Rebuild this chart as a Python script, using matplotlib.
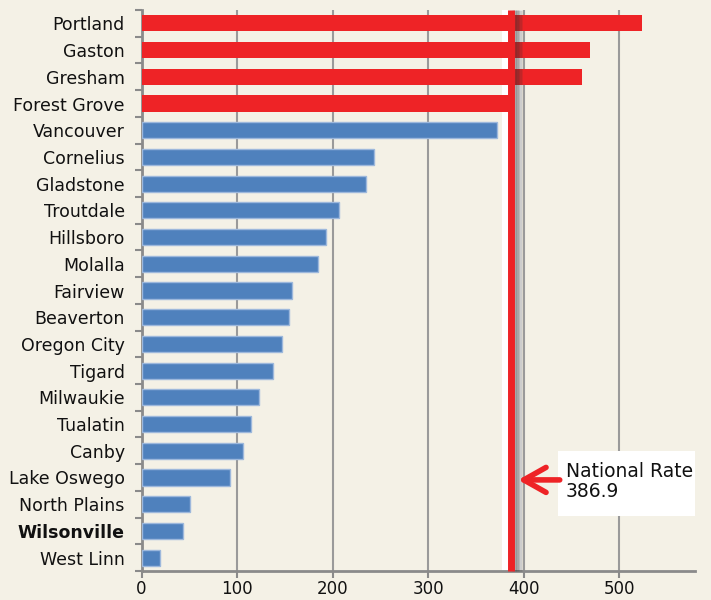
import matplotlib
matplotlib.use("Agg")
import matplotlib.pyplot as plt
import matplotlib.patheffects as pe
from matplotlib.patches import Rectangle
import numpy as np

cities = ["Portland", "Gaston", "Gresham", "Forest Grove", "Vancouver", "Cornelius",
          "Gladstone", "Troutdale", "Hillsboro", "Molalla", "Fairview", "Beaverton",
          "Oregon City", "Tigard", "Milwaukie", "Tualatin", "Canby", "Lake Oswego",
          "North Plains", "Wilsonville", "West Linn"]
rates = [523.4, 469.3, 461.0, 389.0, 372.3, 243.3, 234.6, 206.3, 193.4, 185.0, 157.2,
         154.7, 147.4, 137.6, 122.6, 114.9, 106.5, 92.6, 50.4, 43.7, 19.7]
national_rate = 386.9
national_label = "National Rate\n386.9"
x_ticks = [0, 100, 200, 300, 400, 500]

bg = "#F4F1E6"
red = "#EE2326"
blue = "#4F81BD"

plt.rcParams["font.family"] = ["DejaVu Sans"]
fig = plt.figure(figsize=(7.11, 6.0), dpi=100, facecolor=bg)
ax = fig.add_axes([141.5 / 711, 29 / 600, (695 - 141.5) / 711, (571 - 10) / 600])
ax.set_facecolor(bg)

n = len(cities)
ypos = np.arange(n)[::-1]
colors = [red if r > national_rate else blue for r in rates]
edges = ["none" if r > national_rate else "#9DB8DC" for r in rates]
ax.barh(ypos, rates, height=0.6, color=colors, edgecolor=edges, linewidth=1.0, zorder=3)

ax.set_xlim(0, 579)
ax.set_ylim(-0.5, n - 0.5)
ax.set_xticks(x_ticks)
ax.set_xticklabels([str(t) for t in x_ticks], fontsize=12, color="#111111")
ax.set_yticks(ypos)
ax.set_yticklabels(cities, fontsize=12.5, color="#111111")
for lbl in ax.get_yticklabels():
    if lbl.get_text() == "Wilsonville":
        lbl.set_fontweight("bold")
ax.set_yticks(np.arange(-0.5, n, 1.0), minor=True)
ax.tick_params(axis="y", which="major", length=0, pad=12)
ax.tick_params(axis="y", which="minor", length=5, width=1.5, color="#8A8A8A", direction="out")
ax.tick_params(axis="x", which="major", length=5, width=1.5, color="#8A8A8A", pad=1.5)

ax.grid(axis="x", color="#9A9A9A", linewidth=1.5, zorder=1)
for s in ["top", "right"]:
    ax.spines[s].set_visible(False)
for s in ["left", "bottom"]:
    ax.spines[s].set_color("#8A8A8A")
    ax.spines[s].set_linewidth(2)

# white halo behind bars
ax.plot([national_rate, national_rate], [-0.5, n - 0.5], color="white", linewidth=14.5,
        solid_capstyle="butt", zorder=2, clip_on=False,
        path_effects=[pe.Stroke(offset=(0.5, 0), linewidth=14.5, foreground="white")])

# national rate line with soft shadow to the right
shadow = [pe.SimpleLineShadow(offset=(o, 0), shadow_color="#333333", alpha=0.13)
          for o in (1.5, 2.5, 3.5, 4.5, 5.5)]
ax.plot([national_rate, national_rate], [-0.5, n - 0.5], color=red, linewidth=5,
        solid_capstyle="butt", zorder=5, clip_on=False,
        path_effects=shadow + [pe.Normal()])

# annotation box + text
ax.add_patch(Rectangle(((558 - 141.5) / 553.5, (571 - 516) / 561),
                       (695 - 558) / 553.5, (516 - 451) / 561,
                       transform=ax.transAxes, facecolor="white", edgecolor="none",
                       zorder=6, clip_on=False))
ax.text((566 - 141.5) / 553.5, (571 - 481.5) / 561, national_label, transform=ax.transAxes,
        fontsize=13.5, color="#111111", va="center", ha="left", zorder=7, linespacing=1.05)
ax.annotate("", xy=(394, 2.91), xytext=(437.5, 2.91), zorder=7,
            arrowprops=dict(arrowstyle="->,head_length=0.8,head_width=0.45", color=red,
                            linewidth=4, mutation_scale=20, shrinkA=0, shrinkB=0,
                            capstyle="round", joinstyle="round"))

fig.savefig("out.png", dpi=100, facecolor=bg)
